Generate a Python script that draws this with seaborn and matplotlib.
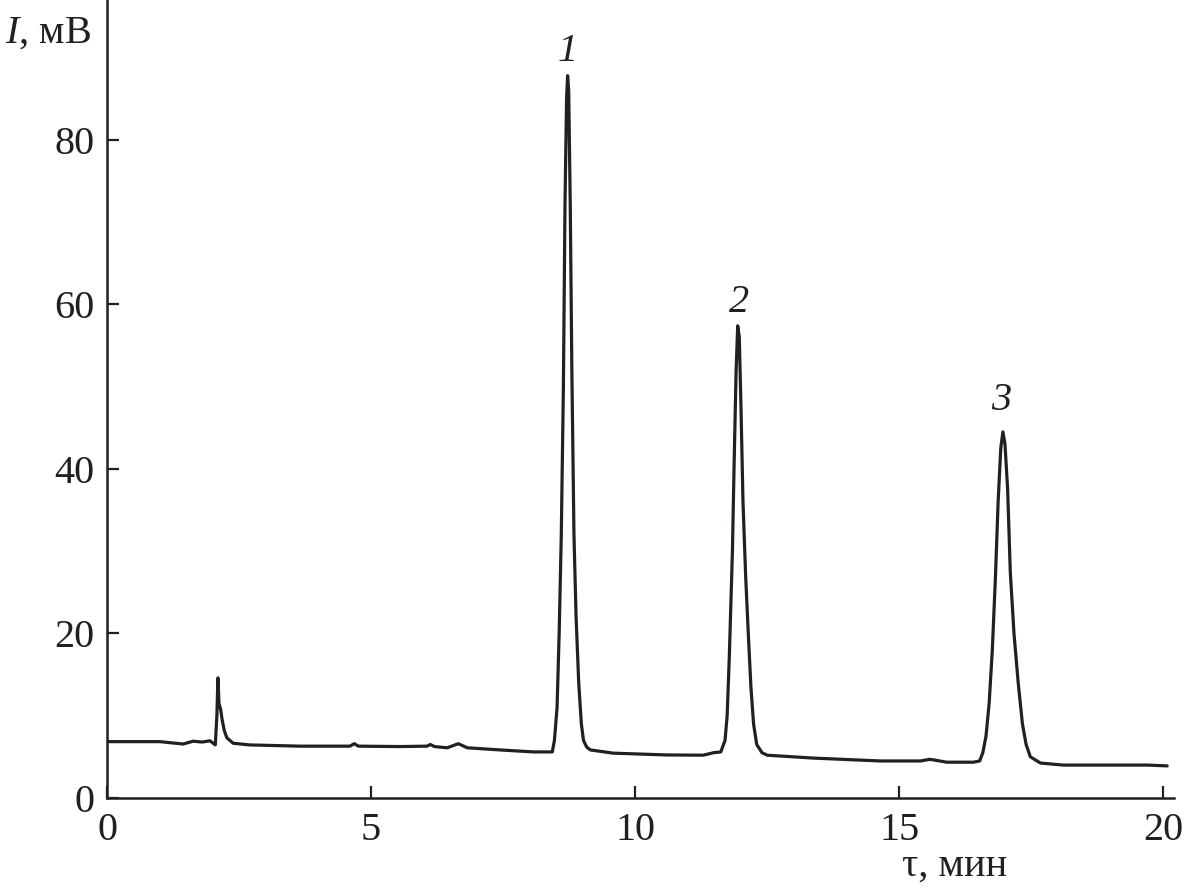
"""Chromatogram: I (mV) vs retention time (min), three labelled peaks."""

import matplotlib
matplotlib.use("Agg")
import matplotlib.pyplot as plt
import seaborn as sns

sns.set_theme(style="ticks")
plt.rcParams.update({
    "font.family": ["Liberation Serif", "DejaVu Serif"],
    "mathtext.fontset": "custom",
    "mathtext.rm": "Liberation Serif",
    "mathtext.it": "Liberation Serif:italic",
    "axes.spines.top": False, "axes.spines.right": False,
})
INK = "#231f20"

# signal (time in min, signal in mV)
TIME = [0.00, 1.00, 1.44, 1.63, 1.80, 1.95, 2.05, 2.08, 2.10, 2.12, 2.15, 2.18, 2.22, 2.27,
        2.39, 2.70, 3.65, 4.60, 4.68, 4.76, 5.55, 6.06, 6.12, 6.20, 6.44, 6.65, 6.82, 7.44,
        8.07, 8.43, 8.47, 8.52, 8.56, 8.60, 8.64, 8.67, 8.70, 8.72, 8.74, 8.77, 8.80, 8.84,
        8.88, 8.93, 8.98, 9.02, 9.08, 9.15, 9.58, 10.60, 11.29, 11.48, 11.62, 11.70, 11.74,
        11.78, 11.84, 11.87, 11.91, 11.94, 11.97, 12.00, 12.04, 12.09, 12.14, 12.19, 12.24,
        12.30, 12.40, 12.50, 13.37, 14.64, 15.40, 15.58, 15.90, 16.40, 16.52, 16.58, 16.64,
        16.70, 16.76, 16.82, 16.87, 16.92, 16.96, 17.00, 17.05, 17.10, 17.17, 17.25, 17.33,
        17.40, 17.48, 17.67, 18.10, 19.70, 20.07]
SIGNAL = [6.85, 6.85, 6.56, 6.90, 6.80, 6.95, 6.45, 10.0, 14.6, 11.5, 10.8, 9.5, 8.2, 7.3,
          6.65, 6.45, 6.30, 6.30, 6.60, 6.30, 6.25, 6.30, 6.50, 6.25, 6.10, 6.60, 6.10, 5.84,
          5.60, 5.60, 7.0, 11.0, 20.0, 32.0, 50.0, 72.0, 85.0, 87.8, 86.0, 72.0, 52.0, 32.0,
          22.0, 14.0, 9.0, 7.0, 6.2, 5.84, 5.45, 5.23, 5.20, 5.50, 5.60, 7.0, 10.0,
          17.0, 30.0, 40.0, 52.0, 57.4, 56.0, 48.0, 36.0, 27.0, 20.0, 13.5, 9.0,
          6.5, 5.5, 5.2, 4.85, 4.50, 4.50, 4.70, 4.35, 4.35, 4.50, 5.5, 7.5,
          11.5, 18.0, 27.0, 36.0, 42.5, 44.5, 43.0, 37.5, 27.5, 20.0, 14.0, 9.0,
          6.5, 5.0, 4.25, 4.0, 4.0, 3.9]

PEAK_LABELS = ["1", "2", "3"]
PEAK_X = [8.72, 11.97, 16.92]
PEAK_Y = [90.8, 60.2, 48.3]

X_TICKS = [0, 5, 10, 15, 20]
Y_TICKS = [0, 20, 40, 60, 80]

fig = plt.figure(figsize=(11.85, 8.91), dpi=100)
ax = fig.add_axes([0.0903, 0.1044, 0.9097 - 0.0097, 0.8956])

sns.lineplot(x=TIME, y=SIGNAL, sort=False, estimator=None, color=INK, lw=2.3, ax=ax)

ax.set_xlim(0, 20.19)
ax.set_ylim(0, 97)
ax.set_xticks(X_TICKS)
ax.set_yticks(Y_TICKS)
ax.tick_params(direction="in", length=8.5, width=1.6, labelsize=29, colors=INK, pad=9)
ax.tick_params(axis="x", pad=10)
for s in ("left", "bottom"):
    ax.spines[s].set_linewidth(1.8)
    ax.spines[s].set_color(INK)

for lab, px, py in zip(PEAK_LABELS, PEAK_X, PEAK_Y):
    ax.text(px, py, lab, style="italic", fontsize=29, ha="center", va="center", color=INK)

fig.text(0.004, 0.952, "$I$, мВ", fontsize=29, ha="left", va="baseline", color=INK)
ax.text(0.795, -0.062, "τ, мин", transform=ax.transAxes, fontsize=29, ha="center",
        va="top", color=INK)

fig.savefig("out.png", dpi=100)
